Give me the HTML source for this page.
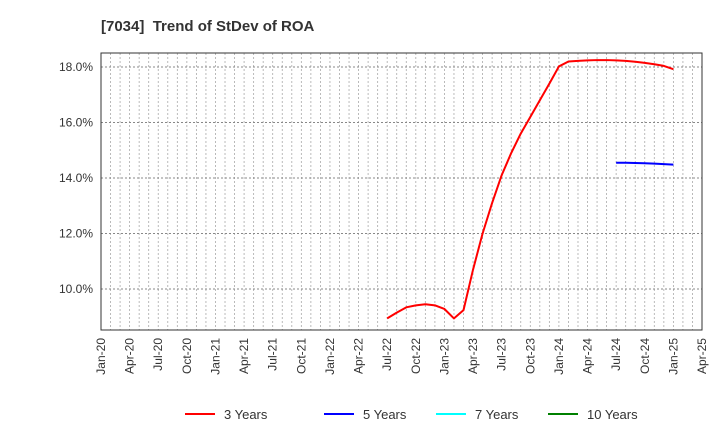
<!DOCTYPE html>
<html><head><meta charset="utf-8"><style>
body{margin:0;background:#fff;font-family:"Liberation Sans",sans-serif}
</style></head><body>
<svg id="c" width="720" height="440" xmlns="http://www.w3.org/2000/svg" font-family="Liberation Sans, sans-serif">
<text x="101" y="31" font-size="15" font-weight="bold" fill="#333">[7034]&#160; Trend of StDev of ROA</text>
<g id="grid"></g><g id="axes"></g><g id="series"></g>
<g font-size="13" fill="#333">
<g><line x1="185" y1="414" x2="215" y2="414" stroke="#ff0000" stroke-width="2"/><text x="224" y="419">3 Years</text></g>
<g><line x1="324" y1="414" x2="354" y2="414" stroke="#0000ff" stroke-width="2"/><text x="363" y="419">5 Years</text></g>
<g><line x1="436" y1="414" x2="466" y2="414" stroke="#00ffff" stroke-width="2"/><text x="475" y="419">7 Years</text></g>
<g><line x1="548" y1="414" x2="578" y2="414" stroke="#008000" stroke-width="2"/><text x="587" y="419">10 Years</text></g>
</g>
</svg>
<script>
const xTickLabels=["Jan-20","Apr-20","Jul-20","Oct-20","Jan-21","Apr-21","Jul-21","Oct-21","Jan-22","Apr-22","Jul-22","Oct-22","Jan-23","Apr-23","Jul-23","Oct-23","Jan-24","Apr-24","Jul-24","Oct-24","Jan-25","Apr-25"];
const yTicks=[10,12,14,16,18];
const series3Start=30; // month index from Jan-20 (Jul-22)
const series3=[8.94,9.15,9.34,9.41,9.45,9.41,9.28,8.94,9.24,10.7,12.0,13.1,14.1,14.9,15.6,16.2,16.8,17.4,18.02,18.2,18.22,18.24,18.25,18.25,18.24,18.22,18.19,18.15,18.1,18.04,17.92];
const series5Start=54; // Jul-24
const series5=[14.55,14.55,14.54,14.53,14.52,14.5,14.48];
const L=101,R=702,T=53,B=330;
const X=m=>L+m*(R-L)/63;
const Y=v=>289-(v-10)*27.75;
const NS="http://www.w3.org/2000/svg";
function mk(p,t,a){const e=document.createElementNS(NS,t);for(const k in a)e.setAttribute(k,a[k]);p.appendChild(e);return e;}
const grid=document.getElementById('grid'),axes=document.getElementById('axes'),ser=document.getElementById('series');
for(let m=1;m<63;m++){const l=mk(grid,'line',{x1:X(m),x2:X(m),y1:T,y2:B,stroke:'#aaa','stroke-dasharray':'2,2','stroke-width':0.8});

}
yTicks.forEach(v=>{const l=mk(grid,'line',{x1:L,x2:R,y1:Y(v),y2:Y(v),stroke:'#888','stroke-dasharray':'2,2','stroke-width':0.9});


const t=mk(axes,'text',{x:L-8,y:Y(v)+4,'text-anchor':'end','font-size':12,fill:'#333'});


t.textContent=v.toFixed(1)+'%';});
xTickLabels.forEach((s,i)=>{const x=X(i*3);const t=mk(axes,'text',{transform:`translate(${x+4},338) rotate(-90)`,'text-anchor':'end','font-size':12,fill:'#333'});


t.textContent=s;});
const frame=mk(axes,'rect',{x:L,y:T,width:R-L,height:B-T,fill:'none',stroke:'#333','stroke-width':1});


function line(vals,start,color,name){const p=mk(ser,'polyline',{points:vals.map((v,i)=>X(start+i)+','+Y(v)).join(' '),fill:'none',stroke:color,'stroke-width':2,'stroke-linejoin':'round'});

}
line(series3,series3Start,'#ff0000','series-3-years');
line(series5,series5Start,'#0000ff','series-5-years');
</script>
</body></html>
